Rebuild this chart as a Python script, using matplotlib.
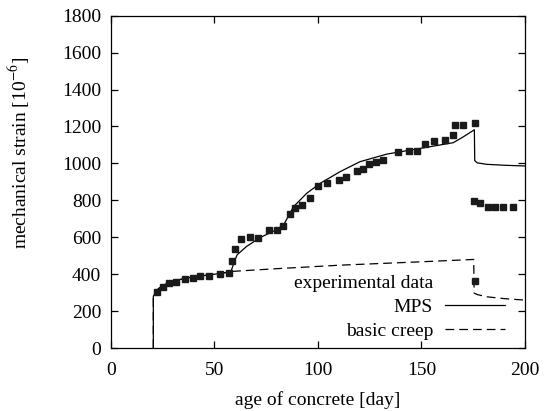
import numpy as np
import matplotlib
matplotlib.use("Agg")
import matplotlib.pyplot as plt
from matplotlib.lines import Line2D

plt.rcParams['font.family'] = ['Liberation Serif', 'DejaVu Serif']
plt.rcParams['mathtext.fontset'] = 'stix'

exp_day = [22.3, 25.2, 27.9, 31.3, 35.8, 39.7, 43.2, 47.4, 52.9, 57.3,
           58.5, 60.2, 63.0, 67.3, 71.3, 76.3, 80.3, 83.0, 86.3, 88.8,
           92.4, 96.2, 100.1, 104.3, 110.4, 113.6, 118.7, 121.6, 124.8, 128.0,
           131.6, 138.5, 143.8, 148.1, 151.8, 156.1, 161.3, 165.3, 166.3, 170.3,
           175.9, 175.4, 178.3, 182.3, 185.5, 189.5, 194.4]
exp_strain = [302, 333, 351, 356, 373, 382, 392, 391, 400, 409,
              473, 535, 589, 600, 598, 637, 639, 661, 724, 758,
              774, 814, 879, 892, 910, 926, 960, 972, 996, 1008,
              1021, 1062, 1068, 1066, 1104, 1122, 1126, 1156, 1207, 1207,
              1219, 798, 783, 762, 762, 762, 765]

# MPS model curve
mps_day = [20.5, 20.5, 21.5, 23, 25, 28, 32, 37, 43, 50, 56, 58.2,
           59.5, 61, 65.5, 72.2, 78.6, 83.4, 88.2, 94.6, 101.1, 110.7, 120.3,
           133.2, 149.3, 165.4, 170.3, 175.6, 175.8, 177, 181.5, 190, 200]
mps_strain = [0, 280, 302, 322, 338, 354, 368, 380, 390, 400, 410, 420,
              465, 505, 550, 599, 633, 666, 765, 838, 892, 955, 1009,
              1050, 1081, 1112, 1144, 1182, 1015, 1003, 995, 990, 986]

# basic creep curve
bc_day = [20.5, 20.5, 21.5, 23, 25, 28, 32, 37, 43, 50, 56, 58.2,
          80, 110.7, 149.3, 175.3, 175.5, 177, 181.5, 190, 200]
bc_strain = [0, 280, 302, 322, 338, 354, 368, 380, 390, 400, 410, 415,
             430, 449, 467, 480, 298, 290, 278, 268, 260]

fig = plt.figure(figsize=(5.49, 4.11), dpi=100)
ax = fig.add_axes([0.202, 0.153, 0.754, 0.809])

ax.plot(mps_day, mps_strain, color='black', lw=0.9)
ax.plot(bc_day, bc_strain, color='black', lw=0.9, dashes=(7, 4))
ax.plot(exp_day, exp_strain, ls='none', marker='s', ms=3.8, color='#1a1a1a')

ax.set_xlim(0, 200)
ax.set_ylim(0, 1800)
ax.set_xticks([0, 50, 100, 150, 200])
ax.set_yticks(np.arange(0, 1801, 200))
ax.tick_params(direction='in', top=True, right=True, length=5, width=0.9,
               labelsize=14)
ax.tick_params(axis='y', pad=7)
ax.tick_params(axis='x', pad=10)
for s in ax.spines.values():
    s.set_linewidth(0.9)

ax.set_xlabel('age of concrete [day]', fontsize=14, labelpad=9)
ax.set_ylabel('mechanical strain [10$^{-6}$]', fontsize=14)
# label sits a bit above the axes middle in the original
ax.yaxis.set_label_coords(-0.19, 0.586)

handles = [Line2D([], [], ls='none', marker='s', ms=3.8, color='#1a1a1a'),
           Line2D([], [], color='black', lw=0.9),
           Line2D([], [], color='black', lw=0.9, dashes=(7, 4))]
labels = ['experimental data', 'MPS', 'basic creep']
ax.legend(handles, labels, loc='lower right', bbox_to_anchor=(0.952, 0.025),
          frameon=False, markerfirst=False, numpoints=1, fontsize=14,
          handlelength=3.1, handletextpad=0.6, labelspacing=0.33,
          borderpad=0, borderaxespad=0)

plt.savefig('out.png', dpi=100)
